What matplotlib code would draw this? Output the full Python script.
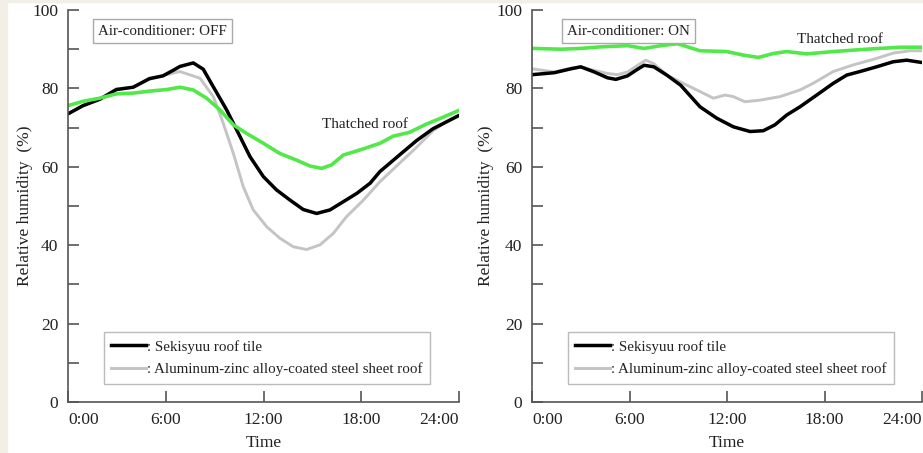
import matplotlib
matplotlib.use("Agg")
from matplotlib import pyplot as plt
from matplotlib.lines import Line2D
from matplotlib.patches import Rectangle

plt.rcParams['font.family'] = ['Liberation Serif', 'DejaVu Serif']

# ---- Air-conditioner OFF ----
off_tile_t = [0, 0.92, 1.94, 2.97, 4.0, 5.0, 5.83, 6.45, 6.87, 7.69, 8.3, 8.92, 9.74,
              10.56, 11.17, 11.99, 12.8, 13.63, 14.44, 15.26, 16.08, 16.9, 17.72,
              18.54, 19.15, 20.4, 21.4, 22.4, 23.2, 24]
off_tile = [73.5, 75.6, 77.2, 79.7, 80.3, 82.5, 83.2, 84.6, 85.6, 86.5, 84.9, 80.4, 74.5,
            67.7, 62.6, 57.5, 54.1, 51.5, 49.1, 48.1, 49.0, 51.1, 53.2,
            55.8, 58.8, 63.2, 66.7, 69.7, 71.4, 73.1]

off_steel_t = [0, 0.92, 1.94, 2.97, 4.0, 5.0, 6.04, 6.87, 8.1, 8.92, 9.53, 10.15, 10.76,
               11.37, 12.2, 13.0, 13.83, 14.65, 15.47, 16.28, 17.1, 18.13, 19.15,
               20.4, 21.4, 22.4, 23.2, 24]
off_steel = [73.5, 75.6, 77.2, 79.9, 80.3, 82.3, 83.5, 84.3, 82.6, 77.9, 71.1, 63.4, 54.9,
             49.0, 44.7, 41.8, 39.6, 38.9, 40.1, 43.0, 47.3, 51.5, 56.2,
             61.1, 65.0, 69.2, 71.4, 73.1]

off_thatch_t = [0, 0.92, 1.94, 2.97, 4.0, 5.0, 6.04, 6.87, 7.69, 8.51, 9.33, 10.15, 10.97,
                11.99, 13.0, 14.03, 14.85, 15.57, 16.18, 16.9, 17.92, 19.15,
                19.95, 20.97, 22.0, 23.0, 24]
off_thatch = [75.6, 76.7, 77.5, 78.6, 78.8, 79.3, 79.7, 80.3, 79.6, 77.5, 74.5, 70.7, 68.5,
              66.0, 63.4, 61.7, 60.2, 59.6, 60.5, 63.0, 64.3, 66.0,
              67.8, 68.8, 70.9, 72.6, 74.4]

# ---- Air-conditioner ON ----
on_tile_t = [0, 1.37, 2.4, 3.0, 3.83, 4.65, 5.16, 5.88, 6.5, 6.9, 7.5, 8.33, 9.15, 10.34,
             11.37, 12.39, 13.42, 14.23, 14.95, 15.67, 16.49, 17.52, 18.54, 19.37,
             20.18, 21.2, 22.23, 23.06, 24]
on_tile = [83.5, 84.0, 85.0, 85.5, 84.2, 82.7, 82.3, 83.2, 84.9, 85.9, 85.5, 83.3, 80.8, 75.3,
           72.4, 70.2, 69.0, 69.2, 70.7, 73.2, 75.3, 78.3, 81.3, 83.4,
           84.3, 85.5, 86.8, 87.2, 86.6]

on_steel_t = [0, 1.37, 2.4, 3.0, 3.83, 4.65, 5.26, 5.88, 6.5, 7.0, 7.5, 8.33, 9.15, 10.34,
              11.16, 11.88, 12.39, 13.1, 14.03, 15.26, 16.49, 17.3, 18.54, 19.77,
              21.0, 22.23, 23.26, 24]
on_steel = [85.0, 84.2, 85.2, 85.5, 84.6, 83.8, 83.5, 84.2, 85.9, 87.2, 86.3, 83.3, 81.6, 79.2,
            77.5, 78.3, 77.9, 76.6, 77.0, 77.9, 79.6, 81.3, 84.3, 86.0,
            87.4, 89.0, 89.6, 89.6]

on_thatch_t = [0, 1.78, 3.0, 4.24, 5.88, 6.9, 7.93, 8.95, 10.34, 11.98, 13.0, 13.93,
               14.85, 15.67, 16.9, 18.54, 20.6, 22.65, 24]
on_thatch = [90.2, 90.0, 90.2, 90.6, 90.9, 90.2, 90.9, 91.4, 89.6, 89.4, 88.5, 87.9,
             88.9, 89.4, 88.8, 89.4, 90.0, 90.5, 90.5]

x_ticks = [0, 6, 12, 18, 24]
x_labels = ['0:00', '6:00', '12:00', '18:00', '24:00']
y_ticks = [0, 10, 20, 30, 40, 50, 60, 70, 80, 90, 100]
y_labels = ['0', '', '20', '', '40', '', '60', '', '80', '', '100']

c_tile = 'black'
c_steel = '#c4c4c4'
c_thatch = '#52e84a'
spine_c = '#555555'

W, H = 923, 453
fig = plt.figure(figsize=(W / 100, H / 100), dpi=100)
fig.patch.set_facecolor('white')
# beige page margin on left and top
fig.patches.append(Rectangle((0, 0), 7 / W, 1, transform=fig.transFigure,
                             color='#f1efe6', zorder=-10))
fig.patches.append(Rectangle((0, 1 - 2 / H), 1, 2 / H, transform=fig.transFigure,
                             color='#f1efe6', zorder=-10))

ax1 = fig.add_axes([68 / W, 51 / H, 391 / W, 392 / H])
ax2 = fig.add_axes([532 / W, 51 / H, 390 / W, 392 / H])

panels = [
    (ax1, off_tile_t, off_tile, off_steel_t, off_steel, off_thatch_t, off_thatch,
     'Air-conditioner: OFF', (0.078, 0.963), (0.65, 0.707), -0.110),
    (ax2, on_tile_t, on_tile, on_steel_t, on_steel, on_thatch_t, on_thatch,
     'Air-conditioner: ON', (0.09, 0.963), (0.68, 0.925), -0.118),
]

for ax, tt, tv, st, sv, ht, hv, title, tpos, hpos, ylx in panels:
    ax.plot(st, sv, color=c_steel, lw=2.1, solid_capstyle='round', solid_joinstyle='round')
    ax.plot(tt, tv, color=c_tile, lw=2.5, solid_capstyle='round', solid_joinstyle='round')
    ax.plot(ht, hv, color=c_thatch, lw=2.6, solid_capstyle='round', solid_joinstyle='round')

    ax.set_xlim(0, 24)
    ax.set_ylim(0, 100)
    for s in ['top', 'right']:
        ax.spines[s].set_visible(False)
    for s in ['left', 'bottom']:
        ax.spines[s].set_color(spine_c)
        ax.spines[s].set_linewidth(1.2)

    ax.set_xticks(x_ticks)
    ax.set_xticklabels(x_labels)
    tl = ax.get_xticklabels()
    tl[0].set_ha('left')
    tl[-1].set_ha('right')
    ax.set_yticks(y_ticks)
    ax.set_yticklabels(y_labels)
    ax.tick_params(direction='in', length=8, width=1.2, color=spine_c,
                   labelsize=12.5, pad=7, labelcolor='#222222')
    ax.set_xlabel('Time', fontsize=12.5, labelpad=5, color='#222222')
    ax.set_ylabel('Relative humidity  (%)', fontsize=12.5, color='#222222', va='center')
    ax.yaxis.set_label_coords(ylx, 0.5)

    ax.text(tpos[0], tpos[1], title, transform=ax.transAxes, fontsize=10.8,
            va='top', ha='left', color='#222222',
            bbox=dict(boxstyle='square,pad=0.35', fc='white', ec='#aaaaaa', lw=1))
    ax.text(hpos[0], hpos[1], 'Thatched roof', transform=ax.transAxes,
            fontsize=11, va='center', ha='left', color='#222222')

    handles = [Line2D([], [], color=c_tile, lw=2.5), Line2D([], [], color=c_steel, lw=2.1)]
    leg = ax.legend(handles, [': Sekisyuu roof tile',
                              ': Aluminum-zinc alloy-coated steel sheet roof'],
                    loc='lower left', bbox_to_anchor=(0.092, 0.046), fontsize=10.8,
                    frameon=True, fancybox=False, handlelength=2.3, handletextpad=0.1,
                    borderpad=0.5, labelspacing=0.6, borderaxespad=0)
    leg.get_frame().set_edgecolor('#aaaaaa')
    leg.get_frame().set_linewidth(1)
    for t in leg.get_texts():
        t.set_color('#222222')

fig.savefig('out.png', dpi=100, facecolor=fig.get_facecolor())
